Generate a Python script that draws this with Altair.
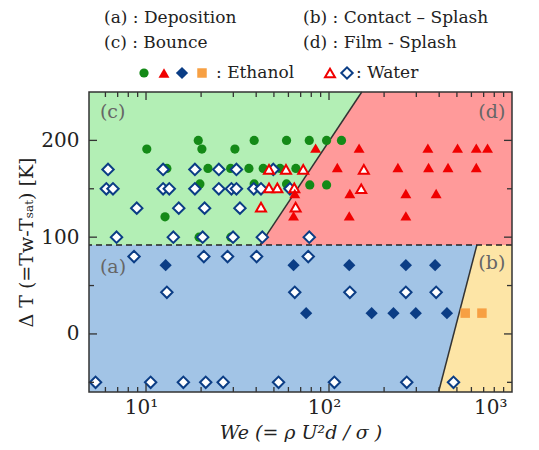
import altair as alt
import pandas as pd

# ---------------- data ----------------
X_DOMAIN = [4.88, 1000]
Y_DOMAIN = [-60, 250]
DASH_DT = 92

# boundary lines (We, dT)
upper_we = [42, 151]
upper_dt = [92, 250]
lower_we = [397, 643]
lower_dt = [-60, 92]

# Ethanol - bounce (green circles)
eth_bounce_we = [19.3, 39, 58.6, 78, 97, 117,
                 10.1, 20.2, 30.6,
                 13, 21.8, 29, 36.5, 43.7, 54, 65.9,
                 19.7, 39, 58.6, 78.5, 97,
                 12.7, 19.5, 29.1]
eth_bounce_dt = [200, 200, 200, 200, 200, 200,
                 191, 191, 191,
                 171, 171, 171, 171, 171, 171, 171,
                 155, 155, 155, 154, 154,
                 121, 100, 100]

# Ethanol - film splash (red filled triangles)
eth_film_we = [84.5, 146, 347, 504, 638, 735,
               111, 238, 350, 447, 638,
               65, 130, 263, 385,
               64, 129, 263]
eth_film_dt = [192, 192, 192, 192, 192, 192,
               172, 172, 172, 172, 172,
               145, 145, 145, 145,
               122, 122, 122]

# Ethanol - deposition (navy filled diamonds)
eth_dep_we = [12.8, 64, 129, 263, 380, 75, 171, 225, 298, 441]
eth_dep_dt = [71, 71, 71, 71, 71, 21.5, 21.5, 21.5, 21.5, 21.5]

# Ethanol - contact splash (orange squares)
eth_contact_we = [555, 685]
eth_contact_dt = [21.5, 21.5]

# Water - film splash (open red triangles)
wat_film_we = [47, 58.2, 72.3, 155, 47, 52.2, 64.6, 150, 42.5, 65.7]
wat_film_dt = [170, 170, 170, 170, 151, 151, 151, 150, 131, 131]

# Water - open diamonds
wat_dia_we = [6.2, 12.4, 18.5, 25, 31.2, 49.6,
              6.07, 6.6, 12.4, 13.4, 18.5, 25, 29.3, 31.2, 38.8, 42.5, 61.2,
              8.9, 15.1, 20.9, 32.6,
              6.9, 14.1, 20.4, 29.9, 43.2, 78,
              8.6, 20.7, 27.9, 40.2, 77,
              13, 65, 130, 263, 385,
              5.3, 10.6, 16, 21.2, 26.4, 53, 107, 266, 479]
wat_dia_dt = [170, 170, 170, 170, 170, 170,
              150, 150, 150, 150, 150, 150, 150, 150, 150, 150, 150,
              130, 130, 130, 130,
              100, 100, 100, 100, 100, 100,
              80, 80, 80, 80, 80,
              43, 43, 43, 43, 43,
              -50, -50, -50, -50, -50, -50, -50, -50, -50]

# region labels
reg_left_text = ["(c)", "(a)"]
reg_left_we = [5.6, 5.6]
reg_left_dt = [229, 69]
reg_right_text = ["(d)", "(b)"]
reg_right_we = [920, 920]
reg_right_dt = [229, 73]

# ticks
x_major = [10, 100]
x_minor = [6, 7, 8, 9, 20, 30, 40, 50, 60, 70, 80, 90,
           200, 300, 400, 500, 600, 700, 800, 900]
y_major = [0, 100, 200]
y_minor = [-50, 50, 150]

# legend panel content
leg_text = ["(a) : Deposition", "(b) : Contact \u2013 Splash", "(c) : Bounce",
            "(d) : Film - Splash", ": Ethanol", ": Water"]
leg_text_x = [15, 214, 15, 214, 127, 267]
leg_text_y = [9.5, 9.5, 34.5, 34.5, 65, 65]
leg_marker_x = [55, 75, 93, 113, 241, 258]
leg_marker_y = [65, 65, 65, 65, 65, 65]

# ---------------- styles ----------------
W, H = 423, 300
LEG_W, LEG_H = 423, 80
SERIF = "DejaVu Serif"
C_GREEN_BG = "#b3efb5"
C_RED_BG = "#ff9a9a"
C_BLUE_BG = "#a2c4e6"
C_YEL_BG = "#fde5a6"
C_GREEN = "#148a17"
C_RED = "#f00000"
C_NAVY = "#0b3d85"
C_ORANGE = "#f7a043"
INK = "#222222"

xs = alt.Scale(type="log", domain=X_DOMAIN, nice=False)
ys = alt.Scale(domain=Y_DOMAIN, nice=False, zero=False)

x_axis = alt.Axis(values=[10, 100, 1000], ticks=False, domain=False, grid=False,
                  labelExpr="datum.value == 10 ? '10\u00b9' : datum.value == 100 ? '10\u00b2' : '10\u00b3'",
                  labelFont=SERIF, labelFontSize=20, labelColor=INK, labelPadding=5,
                  labelOffset=-5,
                  title="We (= \u03c1 U\u00b2d / \u03c3 )", titleFont=SERIF,
                  titleFontSize=19, titleFontStyle="italic", titleFontWeight="normal",
                  titleColor=INK, titlePadding=6)
y_axis = alt.Axis(values=y_major, ticks=False, domain=False, grid=False,
                  labelFont=SERIF, labelFontSize=20, labelColor=INK, labelPadding=10,
                  title="\u0394 T (=T\u1d21-T\u209b\u2090\u209c) [K]", titleFont=SERIF,
                  titleFontSize=19, titleFontWeight="normal", titleColor=INK,
                  titlePadding=4)

def xenc(field="we"):
    return alt.X(f"{field}:Q", scale=xs, axis=x_axis)

def yenc(field="dt"):
    return alt.Y(f"{field}:Q", scale=ys, axis=y_axis)

# regions
blue_df = pd.DataFrame({"we": [X_DOMAIN[0], X_DOMAIN[1]], "dt": [Y_DOMAIN[0], Y_DOMAIN[0]],
                        "dt2": [DASH_DT, DASH_DT]})
green_df = pd.DataFrame({"we": [X_DOMAIN[0], X_DOMAIN[1]], "dt": [DASH_DT, DASH_DT],
                         "dt2": [Y_DOMAIN[1], Y_DOMAIN[1]]})
red_df = pd.DataFrame({"we": [upper_we[0], upper_we[1], X_DOMAIN[1]],
                       "dt": [upper_dt[0], upper_dt[1], Y_DOMAIN[1]],
                       "dt2": [DASH_DT, DASH_DT, DASH_DT]})
yel_df = pd.DataFrame({"we": [lower_we[0], lower_we[1], X_DOMAIN[1]],
                       "dt": [lower_dt[0], lower_dt[1], DASH_DT],
                       "dt2": [Y_DOMAIN[0], Y_DOMAIN[0], Y_DOMAIN[0]]})

def region(df, col):
    return alt.Chart(df).mark_area(color=col, opacity=1).encode(
        x=xenc(), y=yenc(), y2="dt2:Q")

blue = region(blue_df, C_BLUE_BG)
green = region(green_df, C_GREEN_BG)
red = region(red_df, C_RED_BG)
yel = region(yel_df, C_YEL_BG)

upper_line = alt.Chart(pd.DataFrame({"we": upper_we, "dt": upper_dt})).mark_line(
    color="#333333", strokeWidth=1.5).encode(x=xenc(), y=yenc())
lower_line = alt.Chart(pd.DataFrame({"we": lower_we, "dt": lower_dt})).mark_line(
    color="#333333", strokeWidth=1.5).encode(x=xenc(), y=yenc())
dash = alt.Chart(pd.DataFrame({"dt": [DASH_DT]})).mark_rule(
    color=INK, strokeWidth=1.5, strokeDash=[6, 4]).encode(y=yenc())

lab_l = alt.Chart(pd.DataFrame({"we": reg_left_we, "dt": reg_left_dt, "t": reg_left_text})).mark_text(
    align="left", baseline="middle", font=SERIF, fontSize=19, color="#666666").encode(
    x=xenc(), y=yenc(), text="t:N")
lab_r = alt.Chart(pd.DataFrame({"we": reg_right_we, "dt": reg_right_dt, "t": reg_right_text})).mark_text(
    align="right", baseline="middle", font=SERIF, fontSize=19, color="#666666").encode(
    x=xenc(), y=yenc(), text="t:N")

MK = {
    "circle": dict(shape="circle", filled=True, color=C_GREEN, size=85, opacity=1),
    "tri": dict(shape="triangle-up", filled=True, color=C_RED, size=120, opacity=1),
    "dia": dict(shape="diamond", filled=True, color=C_NAVY, size=150, opacity=1),
    "sq": dict(shape="square", filled=True, color=C_ORANGE, size=90, opacity=1),
    "otri": dict(shape="triangle-up", filled=True, fill="white", stroke=C_RED,
                 strokeWidth=2, size=100, opacity=1),
    "odia": dict(shape="diamond", filled=True, fill="white", stroke=C_NAVY,
                 strokeWidth=2, size=130, opacity=1),
}

def pts(we, dt, key):
    return alt.Chart(pd.DataFrame({"we": we, "dt": dt})).mark_point(**MK[key]).encode(
        x=xenc(), y=yenc())

p_circ = pts(eth_bounce_we, eth_bounce_dt, "circle")
p_odia = pts(wat_dia_we, wat_dia_dt, "odia")
p_otri = pts(wat_film_we, wat_film_dt, "otri")
p_tri = pts(eth_film_we, eth_film_dt, "tri")
p_dia = pts(eth_dep_we, eth_dep_dt, "dia")
p_sq = pts(eth_contact_we, eth_contact_dt, "sq")

# inward ticks
MAJ, MIN = 8, 5
def xticks(vals, L):
    df = pd.DataFrame({"we": vals})
    b = alt.Chart(df).mark_rule(color="#333333", strokeWidth=1.3).encode(
        x=xenc(), y=alt.value(H), y2=alt.value(H - L))
    t = alt.Chart(df).mark_rule(color="#333333", strokeWidth=1.3).encode(
        x=xenc(), y=alt.value(0), y2=alt.value(L))
    return b + t

def yticks(vals, L):
    df = pd.DataFrame({"dt": vals})
    l = alt.Chart(df).mark_rule(color="#333333", strokeWidth=1.3).encode(
        y=yenc(), x=alt.value(0), x2=alt.value(L))
    r = alt.Chart(df).mark_rule(color="#333333", strokeWidth=1.3).encode(
        y=yenc(), x=alt.value(W), x2=alt.value(W - L))
    return l + r

frame = alt.Chart(pd.DataFrame({"a": [0]})).mark_rect(
    filled=False, stroke="#333333", strokeWidth=1.5).encode(
    x=alt.value(0), x2=alt.value(W), y=alt.value(0), y2=alt.value(H))

main = alt.layer(
    blue, green, red, yel, upper_line, lower_line, dash, lab_l, lab_r,
    p_circ, p_odia, p_otri, p_tri, p_dia, p_sq,
    xticks(x_major, MAJ), xticks(x_minor, MIN), yticks(y_major, MAJ), yticks(y_minor, MIN),
    frame
).properties(width=W, height=H)

# legend panel
lx = alt.Scale(domain=[0, LEG_W], nice=False, zero=False)
ly = alt.Scale(domain=[0, LEG_H], nice=False, zero=False, reverse=True)
leg_txt = alt.Chart(pd.DataFrame({"lx": leg_text_x, "ly": leg_text_y, "t": leg_text})).mark_text(
    align="left", baseline="middle", font=SERIF, fontSize=17, color=INK).encode(
    x=alt.X("lx:Q", scale=lx, axis=None), y=alt.Y("ly:Q", scale=ly, axis=None), text="t:N")
leg_keys = ["circle", "tri", "dia", "sq", "otri", "odia"]
leg_layers = []
for i, k in enumerate(leg_keys):
    leg_layers.append(
        alt.Chart(pd.DataFrame({"lx": [leg_marker_x[i]], "ly": [leg_marker_y[i]]})).mark_point(
            **MK[k]).encode(x=alt.X("lx:Q", scale=lx, axis=None),
                            y=alt.Y("ly:Q", scale=ly, axis=None)))
legend = alt.layer(leg_txt, *leg_layers).properties(width=LEG_W, height=LEG_H)

chart = alt.vconcat(legend, main, spacing=1).resolve_scale(x="independent", y="independent").properties(
    padding={"left": 9, "top": 0, "right": 5, "bottom": 0}
).configure_view(strokeWidth=0)

chart.save("out.html", embed_options={"renderer": "svg", "actions": False})
